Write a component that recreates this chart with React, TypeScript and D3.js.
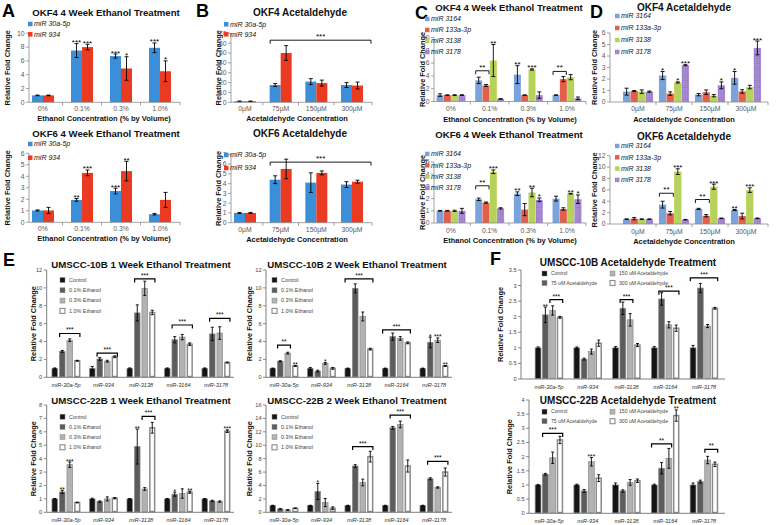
import React from "react";
import * as d3 from "d3";

const FONT = "'Liberation Sans', Arial, Helvetica, sans-serif";

type Star = [number, number, string];
type Bracket = [number, number, number, number, string];
type Series = { name: string; values: number[]; errors: number[]; fill: string; stroke?: string; sw?: number };
type Cfg = {
  kind: "excel" | "prism";
  letter?: [string, number, number];
  title: string; tx: number; ty: number; tsize: number;
  cats: string[]; series: Series[];
  x0: number; x1: number; c0: number; c1: number;
  yb: number; yt: number; ymax: number; step: number;
  barW: number; gap: number;
  ylx: number; xlabel?: string; xlx?: number; catDy: number; xlDy?: number;
  legend: { x: number; y: number; dy: number; cols: number; colDx: number; fs?: number };
  stars: Star[]; brackets: Bracket[];
};

// ---------- categories / names ----------
const ethCats = ["0%", "0.1%", "0.3%", "1.0%"];
const acetCats = ["0µM", "75µM", "150µM", "300µM"];
const mirCats = ["miR-30a-5p", "miR-934", "miR-3138", "miR-3164", "miR-3178"];
const abNames = ["miR 30a-5p", "miR 934"];
const cdNames = ["miR 3164", "miR 133a-3p", "miR 3138", "miR 3178"];
const eNames = ["Control", "0.1% Ethanol", "0.3% Ethanol", "1.0% Ethanol"];
const fNames = ["Control", "75 uM Acetaldehyde", "150 uM Acetaldehyde", "300 uM Acetaldehyde"];
const abColors = ["#3b8ed8", "#ea3a22"];
const cdColors = ["#7aa3dc", "#e2604b", "#b7d25a", "url(#dots)"];
const gColors = ["#151515", "#5c5c5c", "#b2b2b2", "#ffffff"];

// ---------- A: OKF4 / OKF6 4 week ethanol ----------
const a4Mir30a = [1.0, 7.5, 6.7, 7.9];
const a4Mir30aErr = [0.05, 1.0, 0.3, 0.7];
const a4Mir934 = [1.0, 8.0, 4.9, 4.5];
const a4Mir934Err = [0.05, 0.4, 1.7, 1.5];
const a4Stars: Star[] = [[1, 0, "***"], [1, 1, "***"], [2, 0, "***"], [2, 1, "*"], [3, 0, "***"], [3, 1, "*"]];
const a6Mir30a = [1.03, 1.95, 2.72, 0.7];
const a6Mir30aErr = [0.05, 0.12, 0.25, 0.06];
const a6Mir934 = [1.03, 4.3, 4.45, 1.95];
const a6Mir934Err = [0.27, 0.25, 0.85, 0.65];
const a6Stars: Star[] = [[1, 0, "**"], [1, 1, "***"], [2, 0, "***"], [2, 1, "**"]];

// ---------- B: acetaldehyde ----------
const b4Mir30a = [1.0, 17.5, 21, 17.5];
const b4Mir30aErr = [0.3, 1.5, 3, 2.5];
const b4Mir934 = [1.0, 50, 19.5, 17];
const b4Mir934Err = [0.3, 7.5, 3, 3.5];
const b4Brackets: Bracket[] = [[1, 0, 7, 63, "***"]];
const b6Mir30a = [1.0, 4.4, 4.1, 3.9];
const b6Mir30aErr = [0.05, 0.4, 1.0, 0.3];
const b6Mir934 = [1.0, 5.5, 5.1, 4.2];
const b6Mir934Err = [0.05, 1.0, 0.2, 0.15];
const b6Brackets: Bracket[] = [[1, 0, 7, 6.2, "***"]];

// ---------- C: 4 miRs ethanol ----------
const c4Mir3164 = [1.0, 3.3, 4.2, 1.0];
const c4Mir3164Err = [0.2, 0.5, 1.4, 0.03];
const c4Mir133a = [1.0, 2.5, 1.0, 3.5];
const c4Mir133aErr = [0.03, 0.15, 0.03, 0.4];
const c4Mir3138 = [1.0, 6.4, 5.0, 3.8];
const c4Mir3138Err = [0.05, 2.5, 0.1, 0.4];
const c4Mir3178 = [1.0, 0.4, 1.0, 0.5];
const c4Mir3178Err = [0.05, 0.05, 0.5, 0.2];
const c4Stars: Star[] = [[1, 2, "**"], [2, 0, "**"], [2, 2, "***"]];
const c4Brackets: Bracket[] = [[1, 0, 1, 4.8, "**"], [3, 0, 1, 4.7, "**"]];
const c6Mir3164 = [1.0, 1.94, 2.4, 2.0];
const c6Mir3164Err = [0.03, 0.1, 0.15, 0.2];
const c6Mir133a = [1.0, 1.67, 1.1, 1.15];
const c6Mir133aErr = [0.03, 0.05, 0.5, 0.1];
const c6Mir3138 = [1.0, 4.2, 2.5, 2.4];
const c6Mir3138Err = [0.05, 0.15, 0.35, 0.03];
const c6Mir3178 = [1.0, 1.2, 1.9, 1.95];
const c6Mir3178Err = [0.2, 0.05, 0.15, 0.35];
const c6Stars: Star[] = [[1, 2, "***"], [2, 0, "**"], [2, 2, "**"], [2, 3, "*"], [3, 2, "**"], [3, 3, "*"]];
const c6Brackets: Bracket[] = [[1, 0, 1, 3.05, "**"]];

// ---------- D: 4 miRs acetaldehyde ----------
const d4Mir3164 = [0.9, 2.3, 0.64, 2.1];
const d4Mir3164Err = [0.3, 0.35, 0.1, 0.55];
const d4Mir133a = [0.95, 0.73, 0.85, 0.92];
const d4Mir133aErr = [0.05, 0.15, 0.2, 0.15];
const d4Mir3138 = [0.9, 1.7, 0.55, 1.3];
const d4Mir3138Err = [0.15, 0.05, 0.1, 0.15];
const d4Mir3178 = [0.9, 3.2, 1.45, 4.7];
const d4Mir3178Err = [0.05, 0.05, 0.3, 0.6];
const d4Stars: Star[] = [[1, 0, "*"], [1, 2, "*"], [1, 3, "***"], [2, 3, "*"], [3, 0, "*"], [3, 3, "***"]];
const d6Mir3164 = [0.85, 3.4, 2.65, 2.45];
const d6Mir3164Err = [0.05, 0.6, 0.1, 0.1];
const d6Mir133a = [0.95, 1.9, 1.45, 1.4];
const d6Mir133aErr = [0.2, 0.3, 0.2, 0.5];
const d6Mir3138 = [0.85, 9.2, 6.55, 5.95];
const d6Mir3138Err = [0.05, 0.5, 0.45, 0.4];
const d6Mir3178 = [0.85, 0.75, 1.0, 1.0];
const d6Mir3178Err = [0.05, 0.05, 0.05, 0.05];
const d6Stars: Star[] = [[1, 2, "***"], [2, 2, "***"], [3, 0, "**"], [3, 2, "***"]];
const d6Brackets: Bracket[] = [[1, 0, 1, 5.4, "**"], [2, 0, 1, 4.3, "**"]];

// ---------- E: UMSCC ethanol ----------
const e10b1Ctrl = [1, 1, 1, 1, 1];
const e10b1CtrlErr = [0.05, 0.2, 0.05, 0.05, 0.05];
const e10b1E01 = [2.9, 2.05, 7.2, 4.2, 4.85];
const e10b1E01Err = [0.1, 0.15, 0.9, 0.35, 0.75];
const e10b1E03 = [4.15, 1.8, 9.95, 4.5, 4.95];
const e10b1E03Err = [0.15, 0.1, 0.8, 0.3, 0.7];
const e10b1E10 = [1.85, 2.3, 7.25, 3.7, 1.65];
const e10b1E10Err = [0.05, 0.1, 0.25, 0.15, 0.05];
const e10b1Brackets: Bracket[] = [[0, 1, 3, 4.9, "***"], [1, 1, 3, 2.7, "***"], [2, 1, 3, 11.0, "***"], [3, 1, 3, 5.85, "***"], [4, 1, 3, 6.6, "***"]];

const e10b2Ctrl = [1, 1, 1, 1, 1];
const e10b2CtrlErr = [0.03, 0.1, 0.03, 0.03, 0.03];
const e10b2E01 = [1.8, 0.7, 9.95, 4.55, 3.9];
const e10b2E01Err = [0.05, 0.1, 0.5, 0.4, 0.6];
const e10b2E03 = [2.7, 1.55, 6.8, 4.35, 4.15];
const e10b2E03Err = [0.1, 0.1, 0.5, 0.2, 0.25];
const e10b2E10 = [1.27, 1.0, 3.15, 3.85, 1.27];
const e10b2E10Err = [0.05, 0.1, 0.1, 0.1, 0.05];
const e10b2Stars: Star[] = [[0, 3, "**"], [1, 2, "*"], [4, 1, "*"], [4, 2, "***"], [4, 3, "**"]];
const e10b2Brackets: Bracket[] = [[0, 1, 2, 3.6, "**"], [2, 0, 3, 11.0, "***"], [3, 0, 3, 5.3, "***"]];

const e22b1Ctrl = [1, 1, 1, 1, 1];
const e22b1CtrlErr = [0.03, 0.05, 0.03, 0.03, 0.03];
const e22b1E01 = [1.52, 0.8, 4.9, 1.35, 0.85];
const e22b1E01Err = [0.12, 0.05, 1.3, 0.15, 0.05];
const e22b1E03 = [3.55, 1.0, 1.74, 1.4, 0.8];
const e22b1E03Err = [0.2, 0.15, 0.1, 0.35, 0.05];
const e22b1E10 = [0.73, 1.05, 6.3, 1.5, 6.05];
const e22b1E10Err = [0.02, 0.05, 0.4, 0.08, 0.1];
const e22b1Stars: Star[] = [[0, 1, "**"], [0, 2, "***"], [2, 1, "**"], [3, 1, "*"], [3, 3, "**"], [4, 3, "***"]];
const e22b1Brackets: Bracket[] = [[2, 2, 3, 7.15, "***"]];

const e22b2Ctrl = [1, 1, 1, 1, 1];
const e22b2CtrlErr = [0.05, 0.05, 0.05, 0.05, 0.05];
const e22b2E01 = [0.5, 3.1, 6.9, 12.6, 5.0];
const e22b2E01Err = [0.05, 1.2, 0.2, 0.2, 0.15];
const e22b2E03 = [0.35, 1.45, 4.45, 13.1, 3.7];
const e22b2E03Err = [0.05, 0.6, 0.5, 0.5, 0.1];
const e22b2E10 = [0.6, 0.6, 8.3, 6.9, 6.0];
const e22b2E10Err = [0.05, 0.2, 0.8, 0.9, 0.6];
const e22b2Stars: Star[] = [[1, 1, "*"]];
const e22b2Brackets: Bracket[] = [[2, 1, 3, 9.8, "***"], [3, 1, 3, 14.5, "***"], [4, 1, 3, 7.6, "***"]];

// ---------- F: UMSCC acetaldehyde ----------
const f10Ctrl = [1, 1, 1, 1, 1];
const f10CtrlErr = [0.03, 0.03, 0.04, 0.04, 0.08];
const f10A75 = [2.06, 0.64, 2.27, 2.57, 2.92];
const f10A75Err = [0.25, 0.03, 0.2, 0.2, 0.15];
const f10A150 = [2.2, 0.88, 1.9, 1.74, 1.7];
const f10A150Err = [0.15, 0.08, 0.2, 0.1, 0.05];
const f10A300 = [1.98, 1.15, 1.09, 1.63, 2.27];
const f10A300Err = [0.03, 0.1, 0.05, 0.1, 0.03];
const f10Stars: Star[] = [[0, 1, "**"]];
const f10Brackets: Bracket[] = [[0, 2, 3, 2.55, "***"], [2, 1, 2, 2.55, "***"], [3, 1, 3, 2.82, "***"], [4, 0, 3, 3.25, "***"]];

const f22Ctrl = [1, 1, 1, 1, 1];
const f22CtrlErr = [0.02, 0.03, 0.07, 0.03, 0.07];
const f22A75 = [1.38, 0.79, 0.79, 1.59, 1.12];
const f22A75Err = [0.03, 0.05, 0.04, 0.2, 0.05];
const f22A150 = [1.96, 1.82, 1.09, 1.94, 1.88];
const f22A150Err = [0.2, 0.15, 0.1, 0.35, 0.13];
const f22A300 = [2.59, 1.24, 1.15, 3.45, 1.73];
const f22A300Err = [0.13, 0.12, 0.06, 0.2, 0.08];
const f22Stars: Star[] = [[1, 2, "***"], [3, 3, "**"]];
const f22Brackets: Bracket[] = [[0, 1, 3, 2.82, "***"], [3, 0, 2, 2.45, "**"], [4, 2, 3, 2.26, "**"]];

// ---------- helpers ----------
const mk = (names: string[], colors: string[], vals: number[][], errs: number[][], prism = false): Series[] =>
  names.map((n, i) => ({
    name: n,
    values: vals[i],
    errors: errs[i],
    fill: colors[i],
    stroke: prism ? "#8a8a8a" : undefined,
    sw: prism ? (colors[i] === "#ffffff" ? 1.5 : 0.7) : 0,
  }));

const ETH_LABEL = "Ethanol Concentration (% by Volume)";
const ACET_LABEL = "Acetaldehyde Concentration";

const panels: Cfg[] = [
  {
    kind: "excel", letter: ["A", 2, 17], title: "OKF4 4 Week Ethanol Treatment", tx: 106, ty: 15.5, tsize: 9.6,
    cats: ethCats, series: mk(abNames, abColors, [a4Mir30a, a4Mir934], [a4Mir30aErr, a4Mir934Err]),
    x0: 29, x1: 180, c0: 43, c1: 160, yb: 102.3, yt: 33.3, ymax: 10, step: 2, barW: 11, gap: 0,
    ylx: 7, xlabel: ETH_LABEL, xlx: 104, catDy: 8.5, xlDy: 19,
    legend: { x: 28, y: 24, dy: 10.3, cols: 1, colDx: 0 }, stars: a4Stars, brackets: [],
  },
  {
    kind: "excel", title: "OKF6 4 Week Ethanol Treatment", tx: 106, ty: 136.5, tsize: 9.6,
    cats: ethCats, series: mk(abNames, abColors, [a6Mir30a, a6Mir934], [a6Mir30aErr, a6Mir934Err]),
    x0: 29, x1: 180, c0: 43, c1: 160, yb: 222.3, yt: 153.3, ymax: 6, step: 1, barW: 11, gap: 0,
    ylx: 7, xlabel: ETH_LABEL, xlx: 104, catDy: 8.5, xlDy: 19,
    legend: { x: 28, y: 144, dy: 13.7, cols: 1, colDx: 0 }, stars: a6Stars, brackets: [],
  },
  {
    kind: "excel", letter: ["B", 196, 17], title: "OKF4 Acetaldehyde", tx: 300, ty: 15.5, tsize: 10,
    cats: acetCats, series: mk(abNames, abColors, [b4Mir30a, b4Mir934], [b4Mir30aErr, b4Mir934Err]),
    x0: 231, x1: 372, c0: 245, c1: 352, yb: 102.3, yt: 33.3, ymax: 70, step: 10, barW: 11, gap: 0,
    ylx: 218, xlabel: ACET_LABEL, xlx: 297, catDy: 8.5, xlDy: 19,
    legend: { x: 224, y: 24.3, dy: 10, cols: 1, colDx: 0 }, stars: [], brackets: b4Brackets,
  },
  {
    kind: "excel", title: "OKF6 Acetaldehyde", tx: 300, ty: 136.5, tsize: 10,
    cats: acetCats, series: mk(abNames, abColors, [b6Mir30a, b6Mir934], [b6Mir30aErr, b6Mir934Err]),
    x0: 231, x1: 372, c0: 245, c1: 352, yb: 222.7, yt: 154.3, ymax: 7, step: 1, barW: 11, gap: 0,
    ylx: 218, xlabel: ACET_LABEL, xlx: 297, catDy: 9, xlDy: 19.5,
    legend: { x: 224, y: 155, dy: 13, cols: 1, colDx: 0 }, stars: [], brackets: b6Brackets,
  },
  {
    kind: "excel", letter: ["C", 415, 19], title: "OKF4 4 Week Ethanol Treatment", tx: 509, ty: 11, tsize: 9.6,
    cats: ethCats, series: mk(cdNames, cdColors, [c4Mir3164, c4Mir133a, c4Mir3138, c4Mir3178], [c4Mir3164Err, c4Mir133aErr, c4Mir3138Err, c4Mir3178Err]),
    x0: 434, x1: 586, c0: 451, c1: 567, yb: 101.5, yt: 37.5, ymax: 10, step: 2, barW: 7, gap: 0.3,
    ylx: 422, xlabel: ETH_LABEL, xlx: 510, catDy: 9.5, xlDy: 20,
    legend: { x: 425, y: 19, dy: 11, cols: 1, colDx: 0 }, stars: c4Stars, brackets: c4Brackets,
  },
  {
    kind: "excel", title: "OKF6 4 Week Ethanol Treatment", tx: 509, ty: 137.5, tsize: 9.6,
    cats: ethCats, series: mk(cdNames, cdColors, [c6Mir3164, c6Mir133a, c6Mir3138, c6Mir3178], [c6Mir3164Err, c6Mir133aErr, c6Mir3138Err, c6Mir3178Err]),
    x0: 434, x1: 586, c0: 451, c1: 567, yb: 223, yt: 162, ymax: 5, step: 1, barW: 7, gap: 0.3,
    ylx: 422, xlabel: ETH_LABEL, xlx: 510, catDy: 9.5, xlDy: 19.5,
    legend: { x: 425, y: 154, dy: 11.3, cols: 1, colDx: 0 }, stars: c6Stars, brackets: c6Brackets,
  },
  {
    kind: "excel", letter: ["D", 590, 18], title: "OKF4 Acetaldehyde", tx: 684, ty: 10.5, tsize: 10,
    cats: acetCats, series: mk(cdNames, cdColors, [d4Mir3164, d4Mir133a, d4Mir3138, d4Mir3178], [d4Mir3164Err, d4Mir133aErr, d4Mir3138Err, d4Mir3178Err]),
    x0: 610, x1: 768, c0: 638, c1: 746, yb: 102, yt: 33, ymax: 6, step: 1, barW: 7.3, gap: 0.3,
    ylx: 594, xlabel: ACET_LABEL, xlx: 684, catDy: 9, xlDy: 20,
    legend: { x: 615, y: 16, dy: 12, cols: 1, colDx: 0 }, stars: d4Stars, brackets: [],
  },
  {
    kind: "excel", title: "OKF6 Acetaldehyde", tx: 684, ty: 139.5, tsize: 10,
    cats: acetCats, series: mk(cdNames, cdColors, [d6Mir3164, d6Mir133a, d6Mir3138, d6Mir3178], [d6Mir3164Err, d6Mir133aErr, d6Mir3138Err, d6Mir3178Err]),
    x0: 610, x1: 768, c0: 638, c1: 746, yb: 224, yt: 155.7, ymax: 12, step: 2, barW: 7.3, gap: 0.3,
    ylx: 594, xlabel: ACET_LABEL, xlx: 684, catDy: 9.5, xlDy: 19.5,
    legend: { x: 615, y: 146, dy: 11.3, cols: 1, colDx: 0 }, stars: d6Stars, brackets: d6Brackets,
  },
  {
    kind: "prism", letter: ["E", 3, 266], title: "UMSCC-10B 1 Week Ethanol Treatment", tx: 141, ty: 267.5, tsize: 9.7,
    cats: mirCats, series: mk(eNames, gColors, [e10b1Ctrl, e10b1E01, e10b1E03, e10b1E10], [e10b1CtrlErr, e10b1E01Err, e10b1E03Err, e10b1E10Err], true),
    x0: 46.7, x1: 234, c0: 66, c1: 216, yb: 377.3, yt: 270, ymax: 12, step: 2, barW: 6.3, gap: 1.2,
    ylx: 33, catDy: 10,
    legend: { x: 60, y: 280, dy: 10.3, cols: 1, colDx: 0 }, stars: [], brackets: e10b1Brackets,
  },
  {
    kind: "prism", title: "UMSCC-10B 2 Week Ethanol Treatment", tx: 357, ty: 267.5, tsize: 9.7,
    cats: mirCats, series: mk(eNames, gColors, [e10b2Ctrl, e10b2E01, e10b2E03, e10b2E10], [e10b2CtrlErr, e10b2E01Err, e10b2E03Err, e10b2E10Err], true),
    x0: 266, x1: 452, c0: 284, c1: 434, yb: 377.3, yt: 270, ymax: 12, step: 2, barW: 6.3, gap: 1.2,
    ylx: 249, catDy: 10,
    legend: { x: 272, y: 280, dy: 10.3, cols: 1, colDx: 0 }, stars: e10b2Stars, brackets: e10b2Brackets,
  },
  {
    kind: "prism", title: "UMSCC-22B 1 Week Ethanol Treatment", tx: 141, ty: 403.5, tsize: 9.7,
    cats: mirCats, series: mk(eNames, gColors, [e22b1Ctrl, e22b1E01, e22b1E03, e22b1E10], [e22b1CtrlErr, e22b1E01Err, e22b1E03Err, e22b1E10Err], true),
    x0: 46.7, x1: 234, c0: 66, c1: 216, yb: 512.3, yt: 405, ymax: 8, step: 1, barW: 6.3, gap: 1.2,
    ylx: 33, catDy: 10,
    legend: { x: 60, y: 416.7, dy: 10.2, cols: 1, colDx: 0 }, stars: e22b1Stars, brackets: e22b1Brackets,
  },
  {
    kind: "prism", title: "UMSCC-22B 2 Week Ethanol Treatment", tx: 357, ty: 403.5, tsize: 9.7,
    cats: mirCats, series: mk(eNames, gColors, [e22b2Ctrl, e22b2E01, e22b2E03, e22b2E10], [e22b2CtrlErr, e22b2E01Err, e22b2E03Err, e22b2E10Err], true),
    x0: 266, x1: 452, c0: 284, c1: 434, yb: 512.3, yt: 405, ymax: 16, step: 2, barW: 6.3, gap: 1.2,
    ylx: 249, catDy: 10,
    legend: { x: 272, y: 416.7, dy: 10.2, cols: 1, colDx: 0 }, stars: e22b2Stars, brackets: e22b2Brackets,
  },
  {
    kind: "prism", letter: ["F", 490, 265], title: "UMSCC-10B Acetaldehyde Treatment", tx: 628, ty: 266, tsize: 10,
    cats: mirCats, series: mk(fNames, gColors, [f10Ctrl, f10A75, f10A150, f10A300], [f10CtrlErr, f10A75Err, f10A150Err, f10A300Err], true),
    x0: 521, x1: 725, c0: 549, c1: 704, yb: 379, yt: 270, ymax: 3.5, step: 0.5, barW: 6.5, gap: 0.8,
    ylx: 500, catDy: 10,
    legend: { x: 542, y: 273.5, dy: 9.5, cols: 2, colDx: 68, fs: 5.1 }, stars: f10Stars, brackets: f10Brackets,
  },
  {
    kind: "prism", title: "UMSCC-22B Acetaldehyde Treatment", tx: 628, ty: 403.5, tsize: 10,
    cats: mirCats, series: mk(fNames, gColors, [f22Ctrl, f22A75, f22A150, f22A300], [f22CtrlErr, f22A75Err, f22A150Err, f22A300Err], true),
    x0: 529, x1: 725, c0: 549, c1: 704, yb: 513.3, yt: 400, ymax: 4, step: 0.5, barW: 6.5, gap: 0.8,
    ylx: 509, catDy: 10,
    legend: { x: 542, y: 411.7, dy: 9.5, cols: 2, colDx: 68, fs: 5.1 }, stars: f22Stars, brackets: f22Brackets,
  },
];

const fmt = d3.format("~g");

function Panel({ c }: { c: Cfg }) {
  const xs = d3.scalePoint<string>().domain(c.cats).range([c.c0, c.c1]);
  const ys = d3.scaleLinear().domain([0, c.ymax]).range([c.yb, c.yt]);
  const n = c.series.length;
  const gw = n * c.barW + (n - 1) * c.gap;
  const cx = (ci: number) => xs(c.cats[ci]) as number;
  const bx = (ci: number, si: number) => cx(ci) - gw / 2 + si * (c.barW + c.gap);
  const ticks = d3.range(0, c.ymax + c.step / 2, c.step);
  const ex = c.kind === "excel";
  const axisCol = ex ? "#8a8a8a" : "#6f6f6f";
  const tickFs = ex ? 6.8 : 5.6;
  const starFs = ex ? 8 : 6.5;
  const capW = ex ? 4 : 3;
  const bounds: number[] = [];
  for (let i = 1; i < c.cats.length; i++) bounds.push((cx(i - 1) + cx(i)) / 2);
  bounds.push(c.x1);
  const ymid = (c.yb + c.yt) / 2;
  return (
    <g>
      {c.letter && (
        <text x={c.letter[1]} y={c.letter[2]} fontSize={18} fontWeight="bold" fill="#000">{c.letter[0]}</text>
      )}
      <text x={c.tx} y={c.ty} textAnchor="middle" fontSize={c.tsize} fontWeight="bold" fill="#111">{c.title}</text>
      <text transform={`translate(${c.ylx},${ymid}) rotate(-90)`} textAnchor="middle" dy="0.35em" fontSize={7.4} fontWeight="bold" fill="#111">Relative Fold Change</text>
      {/* y axis */}
      <line x1={c.x0} x2={c.x0} y1={c.yb} y2={c.yt} stroke={axisCol} strokeWidth={ex ? 0.8 : 0.9} />
      {ticks.map((t) => (
        <g key={t}>
          <line x1={c.x0 - 3} x2={c.x0} y1={ys(t)} y2={ys(t)} stroke={axisCol} strokeWidth={0.8} />
          <text x={c.x0 - 4.5} y={ys(t)} dy="0.35em" textAnchor="end" fontSize={tickFs} fill={ex ? "#595959" : "#444"}>{fmt(t)}</text>
        </g>
      ))}
      {/* bars */}
      {c.series.map((s, si) => (
        <g key={s.name}>
          {s.values.map((v, ci) => (
            <rect key={ci} x={bx(ci, si) + (s.sw || 0) / 2} y={ys(v)} width={c.barW - (s.sw || 0)} height={Math.max(0, ys(0) - ys(v) - (s.sw || 0) / 2)}
              fill={s.fill} stroke={s.stroke || "none"} strokeWidth={s.sw || 0} />
          ))}
        </g>
      ))}
      {/* error bars */}
      {c.series.map((s, si) => (
        <g key={"e" + s.name} stroke="#000" strokeWidth={0.9}>
          {s.values.map((v, ci) => {
            const x = bx(ci, si) + c.barW / 2;
            const e = s.errors[ci];
            return (
              <g key={ci}>
                <line x1={x} x2={x} y1={ys(Math.max(0, v - e))} y2={ys(v + e)} />
                <line x1={x - capW / 2} x2={x + capW / 2} y1={ys(v + e)} y2={ys(v + e)} />
                <line x1={x - capW / 2} x2={x + capW / 2} y1={ys(Math.max(0, v - e))} y2={ys(Math.max(0, v - e))} />
              </g>
            );
          })}
        </g>
      ))}
      {/* x axis */}
      <line x1={c.x0} x2={c.x1} y1={c.yb} y2={c.yb} stroke={axisCol} strokeWidth={ex ? 0.8 : 0.9} />
      {ex && bounds.map((b, i) => <line key={i} x1={b} x2={b} y1={c.yb} y2={c.yb + 3} stroke={axisCol} strokeWidth={0.8} />)}
      {c.cats.map((cat, ci) => (
        <text key={cat} x={cx(ci)} y={c.yb + c.catDy} textAnchor="middle" fontSize={ex ? 6.8 : 5.6}
          fontStyle={ex ? "normal" : "italic"} fill={ex ? "#595959" : "#333"}>{cat}</text>
      ))}
      {c.xlabel && (
        <text x={c.xlx} y={c.yb + (c.xlDy || 19)} textAnchor="middle" fontSize={7.5} fontWeight="bold" fill="#111">{c.xlabel}</text>
      )}
      {/* stars */}
      {c.stars.map(([ci, si, t], k) => {
        const s = c.series[si];
        return (
          <text key={k} x={bx(ci, si) + c.barW / 2} y={ys(s.values[ci] + s.errors[ci]) + 1.5} textAnchor="middle" fontSize={starFs} fill="#000">{t}</text>
        );
      })}
      {/* brackets */}
      {c.brackets.map(([ci, a, b, lvl, t], k) => {
        const xStart = bx(ci, a) + 0.5;
        const xr = b >= n ? bx(c.cats.length - 1, n - 1) + c.barW + 8 : bx(ci, b) + c.barW - 0.5;
        const y = ys(lvl);
        return (
          <g key={"b" + k}>
            <path d={`M${xStart},${y + 3.5}V${y}H${xr}V${y + 3.5}`} fill="none" stroke="#000" strokeWidth={ex ? 0.9 : 1.2} />
            <text x={(xStart + xr) / 2} y={y - 1} textAnchor="middle" fontSize={starFs} fill="#000">{t}</text>
          </g>
        );
      })}
      {/* legend */}
      {c.series.map((s, i) => {
        const rows = Math.ceil(n / c.legend.cols);
        const col = Math.floor(i / rows);
        const row = i % rows;
        const lx = c.legend.x + col * c.legend.colDx;
        const ly = c.legend.y + row * c.legend.dy;
        const sq = ex ? 4.5 : 5;
        return (
          <g key={"l" + i}>
            <rect x={lx} y={ly - sq / 2} width={sq} height={sq} fill={s.fill} stroke={ex ? "none" : "#8a8a8a"} strokeWidth={ex ? 0 : s.fill === "#ffffff" ? 1.1 : 0.5} />
            <text x={lx + (ex ? 6 : 9)} y={ly} dy="0.35em" fontSize={c.legend.fs || (ex ? 7 : 5.4)} fontStyle={ex ? "italic" : "normal"} fill={ex ? "#111" : "#444"}>{s.name}</text>
          </g>
        );
      })}
    </g>
  );
}

export default function App() {
  return (
    <svg width={778} height={525} viewBox="0 0 778 525" fontFamily={FONT}
      style={{ position: "absolute", left: 0, top: 0, background: "#fff" }}>
      <defs>
        <pattern id="dots" width="2.4" height="2.4" patternUnits="userSpaceOnUse">
          <rect width="2.4" height="2.4" fill="#a78bd3" />
          <circle cx="1.2" cy="1.2" r="0.5" fill="#7c5fb1" />
        </pattern>
      </defs>
      <rect width={778} height={525} fill="#fff" />
      {panels.map((p, i) => <Panel key={i} c={p} />)}
    </svg>
  );
}
